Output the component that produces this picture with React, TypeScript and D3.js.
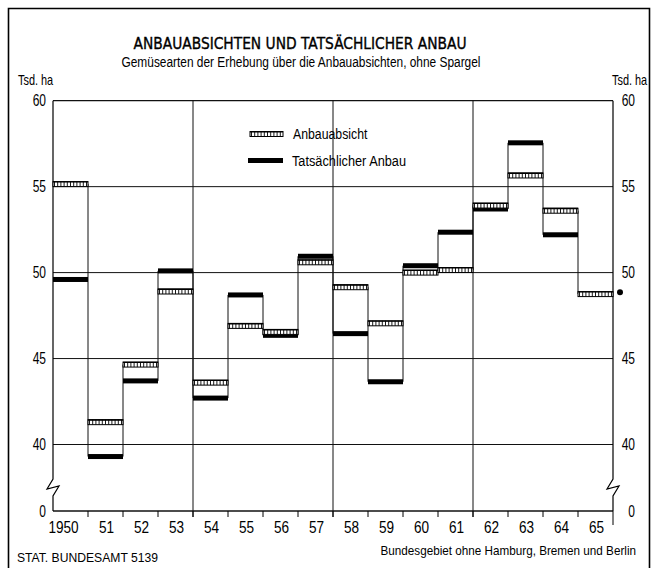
import React from "react";
import * as d3 from "d3";

const years = [1950, 1951, 1952, 1953, 1954, 1955, 1956, 1957, 1958, 1959, 1960, 1961, 1962, 1963, 1964, 1965];
const yearLabels = ["1950", "51", "52", "53", "54", "55", "56", "57", "58", "59", "60", "61", "62", "63", "64", "65"];
const anbauabsicht = [55.15, 41.3, 44.65, 48.9, 43.6, 46.9, 46.55, 50.6, 49.15, 47.05, 50.0, 50.15, 53.9, 55.65, 53.6, 48.75];
const tatsaechlich: (number | null)[] = [49.6, 39.3, 43.7, 50.1, 42.7, 48.7, 46.35, 50.95, 46.45, 43.65, 50.4, 52.35, 53.7, 57.55, 52.2, null];
const extraDot = { year: 1966, value: 48.85 };
const yTicks = [0, 40, 45, 50, 55, 60];
const vGridYears = [1954, 1958, 1962];

const SANS = "'Liberation Sans', Arial, sans-serif";

function NText(props: { x: number; y: number; size: number; sx?: number; anchor?: string; weight?: number | string; family?: string; children: React.ReactNode }) {
  const { x, y, size, sx = 0.8, anchor = "start", weight = 400, family = SANS, children } = props;
  return (
    <text transform={`translate(${x},${y}) scale(${sx},1)`} textAnchor={anchor as any} fontFamily={family} fontSize={size} fontWeight={weight} fill="#000">
      {children}
    </text>
  );
}

export default function App() {
  const W = 653, H = 568;
  const x = d3.scaleLinear().domain([1950, 1966]).range([53, 613]);
  const y = d3.scaleLinear().domain([0, 37.5, 40, 60]).range([511, 487.5, 444.5, 100.7]);
  const bw = x(1951) - x(1950);
  const markH = 5;

  const bounds: { xv: number; lo: number; hi: number }[] = [];
  for (let i = 1; i < years.length; i++) {
    const vals = [anbauabsicht[i - 1], anbauabsicht[i], tatsaechlich[i - 1], tatsaechlich[i]].filter((v) => v != null) as number[];
    bounds.push({ xv: years[i], lo: d3.min(vals)!, hi: d3.max(vals)! });
  }

  const axisPath = (ax: number) =>
    `M${ax},${y(60)} L${ax},${y(40)} L${ax},479 L${ax - 6},489 L${ax + 6},486 L${ax},496 L${ax},${y(0)}`;

  const hatched = (x0: number, x1: number, cy: number, key: string) => {
    const top = cy - markH / 2;
    const ticks = d3.range(x0 + 1.5, x1 - 0.5, 3.2);
    return (
      <g key={key}>
        <rect x={x0} y={top} width={x1 - x0} height={markH} fill="#fff" stroke="#000" strokeWidth={1} />
        <line x1={x0} x2={x1} y1={top + 0.3} y2={top + 0.3} stroke="#000" strokeWidth={1.4} />
        {ticks.map((tx, j) => (
          <line key={j} x1={tx} x2={tx} y1={top} y2={top + markH} stroke="#000" strokeWidth={0.9} />
        ))}
      </g>
    );
  };

  return (
    <svg width={W} height={H} style={{ position: "absolute", left: 0, top: 0, background: "#fff" }}>
      <rect x={0} y={0} width={W} height={H} fill="#fff" />
      <path d={`M8.5,${H} L8.5,8.5 L649.5,8.5 L649.5,${H}`} fill="none" stroke="#000" strokeWidth={1.6} />

      {/* titles */}
      <text x={300} y={49} textAnchor="middle" fontFamily="'DejaVu Sans', sans-serif" fontSize={15} stroke="#000" strokeWidth={0.35} textLength={333} lengthAdjust="spacingAndGlyphs" fill="#000">
        ANBAUABSICHTEN UND TATSÄCHLICHER ANBAU
      </text>
      <text x={301} y={67} textAnchor="middle" fontFamily={SANS} fontSize={14} textLength={359} lengthAdjust="spacingAndGlyphs" fill="#000">
        Gemüsearten der Erhebung über die Anbauabsichten, ohne Spargel
      </text>
      <NText x={18} y={85} size={14} sx={0.78}>Tsd. ha</NText>
      <NText x={612} y={85} size={14} sx={0.78}>Tsd. ha</NText>

      {/* horizontal grid */}
      {yTicks.map((t) => (
        <line key={t} x1={x(1950)} x2={x(1966)} y1={y(t)} y2={y(t)} stroke="#111" strokeWidth={t === 0 || t === 60 ? 1.3 : 1} />
      ))}
      {vGridYears.map((v) => (
        <line key={v} x1={x(v)} x2={x(v)} y1={y(60)} y2={y(0) + 6} stroke="#111" strokeWidth={1} />
      ))}
      <path d={axisPath(x(1950))} fill="none" stroke="#000" strokeWidth={1.2} />
      <path d={axisPath(x(1966))} fill="none" stroke="#000" strokeWidth={1.2} />
      <line x1={x(1966)} x2={x(1966)} y1={y(0)} y2={y(0) + 14} stroke="#000" strokeWidth={1} />

      {years.slice(1).map((yr) => (
        <line key={yr} x1={x(yr)} x2={x(yr)} y1={y(0)} y2={y(0) + 6} stroke="#000" strokeWidth={1} />
      ))}

      {/* y labels */}
      {yTicks.map((t) => (
        <g key={t}>
          <NText x={46} y={y(t) + 5.5} size={16} sx={0.75} anchor="end">{t}</NText>
          <NText x={635} y={y(t) + 5.5} size={16} sx={0.75} anchor="end">{t}</NText>
        </g>
      ))}

      {/* x labels */}
      {years.map((yr, i) => (
        <NText key={yr} x={x(yr) + bw / 2 + (i === 0 ? -7 : 1)} y={533} size={17} sx={0.8} anchor="middle">
          {yearLabels[i]}
        </NText>
      ))}

      {/* step connectors */}
      {bounds.map((b) => (
        <line key={b.xv} x1={x(b.xv)} x2={x(b.xv)} y1={y(b.hi)} y2={y(b.lo)} stroke="#111" strokeWidth={1} />
      ))}

      {/* marks */}
      {years.map((yr, i) => {
        const t = tatsaechlich[i];
        return t == null ? null : (
          <rect key={"t" + yr} x={x(yr)} y={y(t) - markH / 2} width={bw} height={markH} fill="#000" />
        );
      })}
      {years.map((yr, i) => hatched(x(yr), x(yr) + bw, y(anbauabsicht[i]), "a" + yr))}
      <circle cx={x(extraDot.year) + 7} cy={y(extraDot.value)} r={3} fill="#000" />

      {/* legend */}
      {hatched(250, 283, 134, "lg1")}
      <NText x={293} y={139} size={15} sx={0.82}>Anbauabsicht</NText>
      <rect x={248} y={158} width={35} height={5} fill="#000" />
      <NText x={292} y={166} size={15} sx={0.85}>Tatsächlicher Anbau</NText>

      {/* footer */}
      <text x={17} y={562} fontFamily={SANS} fontSize={12} fill="#000" textLength={141} lengthAdjust="spacingAndGlyphs">STAT. BUNDESAMT 5139</text>
      <NText x={636} y={555} size={13} sx={0.9} anchor="end">Bundesgebiet ohne Hamburg, Bremen und Berlin</NText>
    </svg>
  );
}
